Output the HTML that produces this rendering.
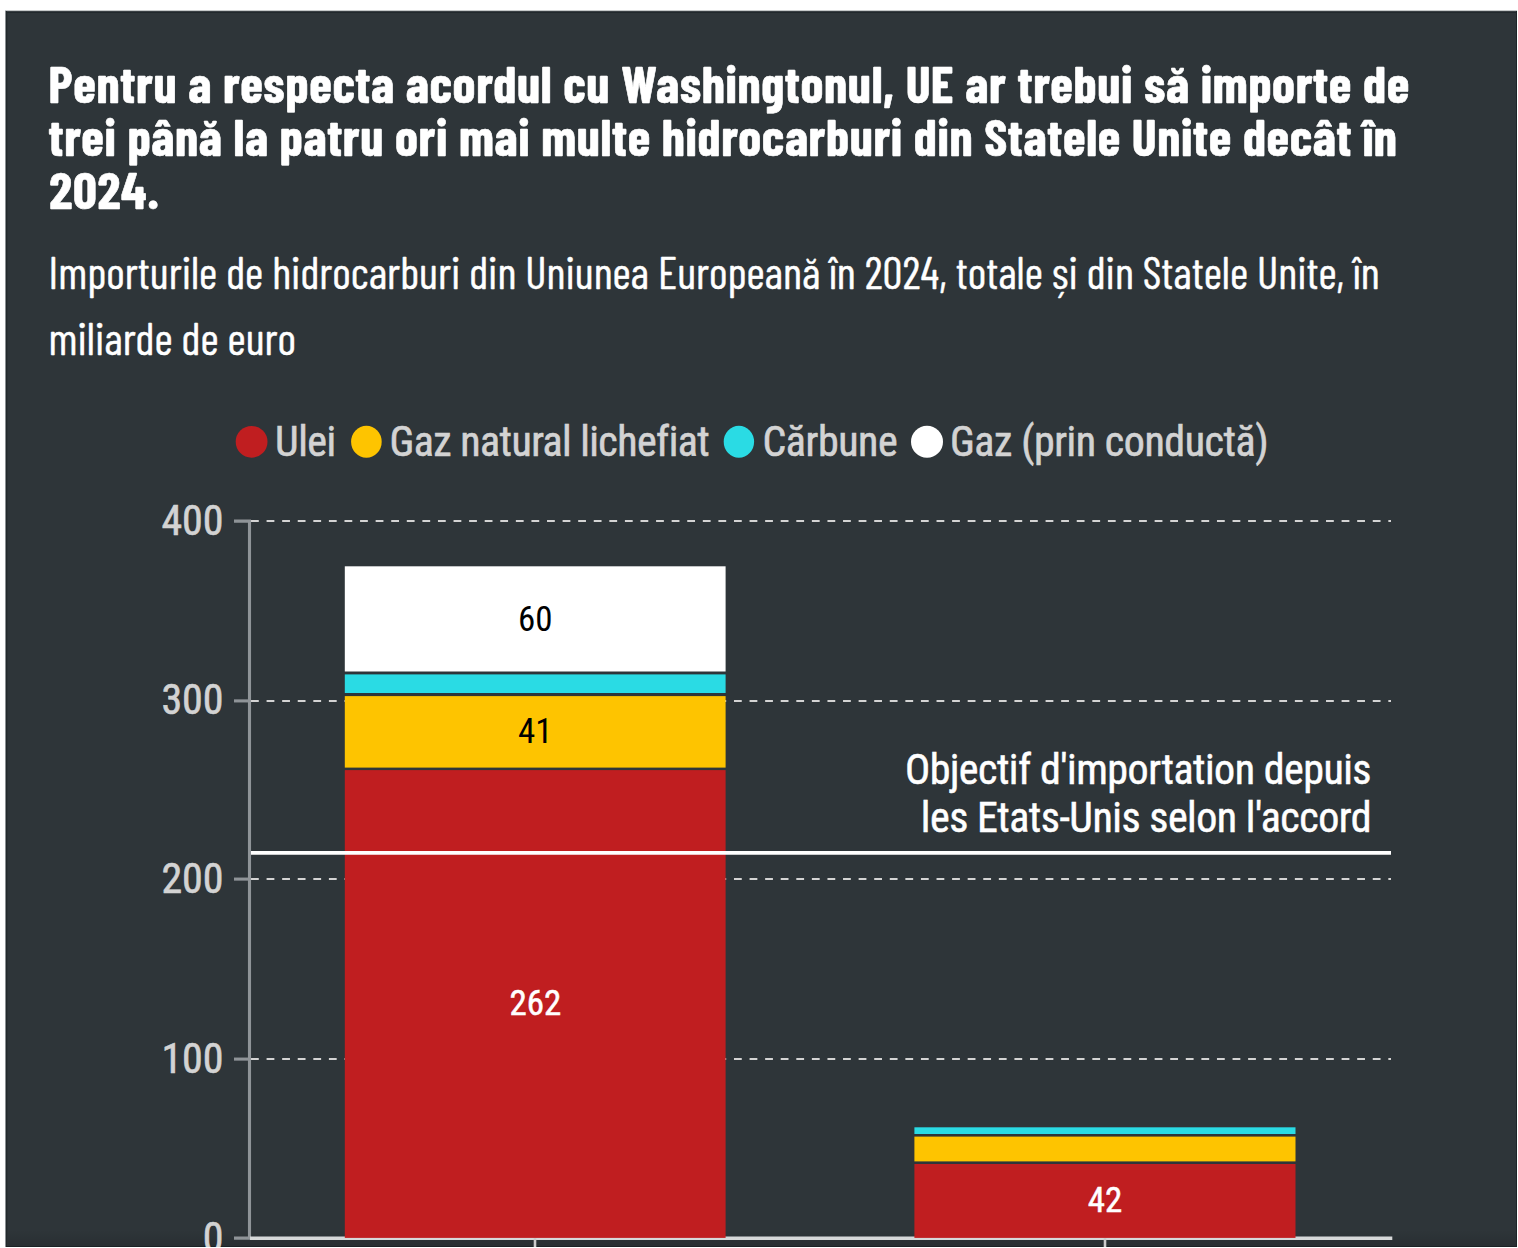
<!DOCTYPE html>
<html lang="ro">
<head>
<meta charset="utf-8">
<title>Importurile de hidrocarburi din Uniunea Europeană</title>
<style>
  html, body { margin: 0; padding: 0; background: #ffffff; }
  body { width: 1518px; height: 1248px; overflow: hidden; position: relative; }
  .panel {
    position: absolute; left: 5px; top: 10px; width: 1512px; height: 1237px;
    background: #2e3539; overflow: hidden;
  }
  .panel i { position: absolute; display: block; }
  .e-l0 { left: 0; top: 0; width: 1px; height: 100%; background: #8a8f92; }
  .e-t0 { left: 0; top: 0; width: 100%; height: 1px; background: #c6c9ca; }
  .e-t1 { left: 1px; top: 1px; width: 100%; height: 1px; background: #3a4044; }
  .e-t2 { left: 1px; top: 2px; width: 100%; height: 1px; background: #21282c; }
  .e-l1 { left: 1px; top: 1px; width: 1px; height: 100%; background: #22292c; }
  .e-l2 { left: 2px; top: 3px; width: 1px; height: 100%; background: #2a3134; }
  .e-r0 { right: 0; top: 1px; width: 1px; height: 100%; background: #1d2427; }
  .e-bg { left: 1px; bottom: 1px; width: 100%; height: 16px; background: linear-gradient(rgba(0,0,0,0), rgba(0,0,0,0.12)); }
  .e-b0 { left: 1px; bottom: 0; width: 100%; height: 1px; background: #1b2225; }
  .title { font-family: "Barlow Condensed", "DejaVu Sans Condensed", "Liberation Sans", sans-serif; font-weight: 700; font-size: 51.8px; letter-spacing: 0.66px; fill: #ffffff; stroke: #ffffff; stroke-width: 0.6px; }
  .subtitle { font-family: "Barlow Condensed", "DejaVu Sans Condensed", "Liberation Sans", sans-serif; font-weight: 400; font-size: 44.66px; fill: #ffffff; stroke: #ffffff; stroke-width: 0.45px; }
  svg { position: absolute; left: 0; top: 0; }
  .leg { font-family: "Roboto Condensed", "Liberation Sans", sans-serif; font-size: 42px; letter-spacing: -0.45px; fill: #d3d3d3; stroke: #d3d3d3; stroke-width: 0.6px; }
  .ax { font-family: "Roboto Condensed", "Liberation Sans", sans-serif; font-size: 42px; fill: #d3d3d3; stroke: #d3d3d3; stroke-width: 0.6px; }
  .val { font-family: "Roboto Condensed", "Liberation Sans", sans-serif; font-size: 35px; }
  .ann { font-family: "Roboto Condensed", "Liberation Sans", sans-serif; font-size: 42px; letter-spacing: -0.5px; fill: #ffffff; stroke: #ffffff; stroke-width: 0.5px; }
</style>
</head>
<body>
<div class="panel"><i class="e-bg"></i><i class="e-l0"></i><i class="e-t0"></i><i class="e-t1"></i><i class="e-t2"></i><i class="e-l1"></i><i class="e-l2"></i><i class="e-r0"></i><i class="e-b0"></i></div>
<svg width="1518" height="1247" viewBox="0 0 1518 1247">
  <!-- title -->
  <g class="title">
    <text x="48.6" y="103" textLength="1361.4" lengthAdjust="spacingAndGlyphs">Pentru a respecta acordul cu Washingtonul, UE ar trebui să importe de</text>
    <text x="48.6" y="156.2" textLength="1348.9" lengthAdjust="spacingAndGlyphs">trei până la patru ori mai multe hidrocarburi din Statele Unite decât în</text>
    <text x="49.3" y="209.4" textLength="110.3" lengthAdjust="spacingAndGlyphs">2024.</text>
  </g>
  <!-- subtitle -->
  <g class="subtitle">
    <text x="48.6" y="289" textLength="1331" lengthAdjust="spacingAndGlyphs">Importurile de hidrocarburi din Uniunea Europeană în 2024, totale și din Statele Unite, în</text>
    <text x="48.6" y="355" textLength="247.4" lengthAdjust="spacingAndGlyphs">miliarde de euro</text>
  </g>
  <!-- legend -->
  <g>
    <ellipse cx="251.6" cy="441.8" rx="15.9" ry="15.9" fill="#c01e20"/>
    <text class="leg" x="275" y="456.4" textLength="60.75" lengthAdjust="spacingAndGlyphs">Ulei</text>
    <ellipse cx="366.4" cy="441.8" rx="15.3" ry="16" fill="#fec400"/>
    <text class="leg" x="389.5" y="456.4" style="letter-spacing:-0.57px" textLength="319.73" lengthAdjust="spacingAndGlyphs">Gaz natural lichefiat</text>
    <ellipse cx="738.9" cy="441.8" rx="15.2" ry="16" fill="#2adbe4"/>
    <text class="leg" x="762.5" y="456.4" textLength="134.63" lengthAdjust="spacingAndGlyphs">Cărbune</text>
    <ellipse cx="927" cy="441.8" rx="16" ry="16" fill="#ffffff"/>
    <text class="leg" x="950" y="456.4" textLength="318.08" lengthAdjust="spacingAndGlyphs">Gaz (prin conductă)</text>
  </g>
  <!-- gridlines -->
  <g stroke="#d4d4d4" stroke-width="2" stroke-dasharray="7.79 7.79">
    <line x1="251" y1="521.1" x2="1391" y2="521.1"/>
    <line x1="251" y1="700.9" x2="1391" y2="700.9"/>
    <line x1="251" y1="879.1" x2="1391" y2="879.1"/>
    <line x1="251" y1="1059.1" x2="1391" y2="1059.1"/>
  </g>
  <!-- y axis -->
  <g stroke="#8f9498" stroke-width="3.1" fill="none">
    <path d="M234 521.1H249.5V1238.1H234"/>
    <line x1="234" y1="700.9" x2="249.5" y2="700.9"/>
    <line x1="234" y1="879.1" x2="249.5" y2="879.1"/>
    <line x1="234" y1="1059.1" x2="249.5" y2="1059.1"/>
  </g>
  <g class="ax" text-anchor="end">
    <text x="223.6" y="534.8" textLength="62.2" lengthAdjust="spacingAndGlyphs">400</text>
    <text x="223.6" y="714.4" textLength="62.2" lengthAdjust="spacingAndGlyphs">300</text>
    <text x="223.6" y="893.3" textLength="62.2" lengthAdjust="spacingAndGlyphs">200</text>
    <text x="223.6" y="1072.8" textLength="62.2" lengthAdjust="spacingAndGlyphs">100</text>
    <text x="223.6" y="1252" textLength="20.73" lengthAdjust="spacingAndGlyphs">0</text>
  </g>
  <!-- x axis -->
  <g stroke="#d6d8d9">
    <line x1="250" y1="1238.2" x2="1392.3" y2="1238.2" stroke-width="3.4"/>
    <line x1="535" y1="1238" x2="535" y2="1247" stroke-width="2.6" stroke="#cbcbcb"/>
    <line x1="1105" y1="1238" x2="1105" y2="1247" stroke-width="2.6" stroke="#cbcbcb"/>
  </g>
  <!-- bars -->
  <g>
    <rect x="344.8" y="566.3" width="380.8" height="105.2" fill="#ffffff"/>
    <rect x="344.8" y="674.4" width="380.8" height="18.6" fill="#2adbe4"/>
    <rect x="344.8" y="696.1" width="380.8" height="71.5" fill="#fec400"/>
    <rect x="344.8" y="770.1" width="380.8" height="467.8" fill="#c01e20"/>
    <rect x="914.4" y="1127.3" width="381.1" height="6.7" fill="#2adbe4"/>
    <rect x="914.4" y="1136.6" width="381.1" height="24.8" fill="#fec400"/>
    <rect x="914.4" y="1164" width="381.1" height="73.9" fill="#c01e20"/>
  </g>
  <g class="val" text-anchor="middle">
    <text x="535.3" y="630.5" fill="#000" textLength="34.56" lengthAdjust="spacingAndGlyphs">60</text>
    <text x="535.3" y="743" fill="#000" textLength="34.56" lengthAdjust="spacingAndGlyphs">41</text>
    <text x="535.3" y="1015.3" fill="#fff" stroke="#fff" stroke-width="0.5" textLength="51.84" lengthAdjust="spacingAndGlyphs">262</text>
    <text x="1105" y="1212" fill="#fff" stroke="#fff" stroke-width="0.5" textLength="34.56" lengthAdjust="spacingAndGlyphs">42</text>
  </g>
  <!-- target annotation -->
  <line x1="251" y1="852.9" x2="1391" y2="852.9" stroke="#ffffff" stroke-width="3.8"/>
  <g class="ann" text-anchor="end">
    <text x="1371" y="783.7" textLength="466.03" lengthAdjust="spacingAndGlyphs">Objectif d'importation depuis</text>
    <text x="1371" y="831.7" textLength="450.16" lengthAdjust="spacingAndGlyphs">les Etats-Unis selon l'accord</text>
  </g>
</svg>
</body>
</html>
